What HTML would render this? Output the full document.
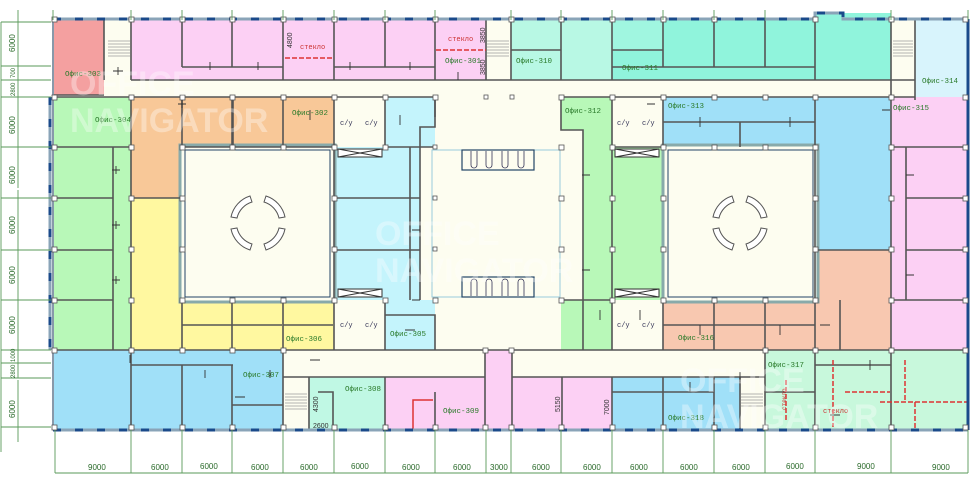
<!DOCTYPE html>
<html><head><meta charset="utf-8"><style>
html,body{margin:0;padding:0;background:#fff}
svg{display:block}
.l{font-family:"Liberation Mono",monospace;font-size:7.5px;fill:#2a7a2a}
.d{font-family:"Liberation Sans",sans-serif;font-size:8px;fill:#2a6a2a}
.s{font-family:"Liberation Mono",monospace;font-size:7px;fill:#335}
.w{stroke:#555;stroke-width:1.6;fill:none}
.t{stroke:#333;stroke-width:0.9}
</style></head><body>
<svg width="975" height="498" viewBox="0 0 975 498" xmlns="http://www.w3.org/2000/svg">
<rect width="975" height="498" fill="#fff"/>
<rect x="53" y="20" width="915" height="410" fill="#fdfdf0"/>
<!-- top row -->
<rect x="53" y="20" width="51" height="75" fill="#f4a0a0"/>
<rect x="131" y="20" width="355" height="60" fill="#fcd0f4"/>
<rect x="511" y="20" width="101" height="60" fill="#b8f8e4"/>
<rect x="612" y="20" width="203" height="60" fill="#90f4dc"/>
<rect x="612" y="20" width="51" height="30" fill="#a0f6e0"/>
<rect x="815" y="13" width="76" height="67" fill="#90f4dc"/>
<rect x="915" y="20" width="53" height="77" fill="#d8f4fc"/>
<!-- middle -->
<rect x="53" y="97" width="78" height="253" fill="#b8f8b8"/>
<rect x="131" y="97" width="51" height="101" fill="#f8c898"/>
<rect x="182" y="97" width="152" height="50" fill="#f8c898"/>
<rect x="385" y="97" width="50" height="50" fill="#c4f4fc"/>
<rect x="334" y="147" width="86" height="153" fill="#c4f4fc"/>
<rect x="385" y="300" width="50" height="15" fill="#c4f4fc"/>
<rect x="385" y="315" width="50" height="35" fill="#c4f4fc"/>
<rect x="131" y="198" width="51" height="152" fill="#fff8a0"/>
<rect x="182" y="300" width="152" height="50" fill="#fff8a0"/>
<rect x="561" y="97" width="51" height="33" fill="#b8f8b8"/>
<rect x="583" y="130" width="29" height="170" fill="#b8f8b8"/>
<rect x="612" y="147" width="51" height="153" fill="#b8f8b8"/>
<rect x="561" y="300" width="51" height="50" fill="#b8f8b8"/>
<rect x="663" y="97" width="152" height="50" fill="#a0e0f8"/>
<rect x="815" y="97" width="76" height="153" fill="#a0e0f8"/>
<rect x="891" y="97" width="77" height="253" fill="#fcd0f4"/>
<rect x="815" y="250" width="76" height="100" fill="#f8c8b0"/>
<rect x="663" y="300" width="152" height="50" fill="#f8c8b0"/>
<!-- atria -->
<rect x="180" y="145" width="155" height="157" fill="#fdfdf0" stroke="#8aa" stroke-width="3"/>
<rect x="185" y="150" width="145" height="147" fill="none" stroke="#246" stroke-width="1"/>
<rect x="663" y="145" width="155" height="157" fill="#fdfdf0" stroke="#8aa" stroke-width="3"/>
<rect x="668" y="150" width="145" height="147" fill="none" stroke="#246" stroke-width="1"/>
<g fill="#fff" stroke="#555" stroke-width="1">
<g transform="translate(258,223)">
<path d="M-27,-6 A28,28 0 0 1 -8,-27 L-6,-21 A22,22 0 0 0 -21,-5Z"/>
<path d="M27,-6 A28,28 0 0 0 8,-27 L6,-21 A22,22 0 0 1 21,-5Z"/>
<path d="M-27,6 A28,28 0 0 0 -8,27 L-6,21 A22,22 0 0 1 -21,5Z"/>
<path d="M27,6 A28,28 0 0 1 8,27 L6,21 A22,22 0 0 0 21,5Z"/>
</g>
<g transform="translate(740,223)">
<path d="M-27,-6 A28,28 0 0 1 -8,-27 L-6,-21 A22,22 0 0 0 -21,-5Z"/>
<path d="M27,-6 A28,28 0 0 0 8,-27 L6,-21 A22,22 0 0 1 21,-5Z"/>
<path d="M-27,6 A28,28 0 0 0 -8,27 L-6,21 A22,22 0 0 1 -21,5Z"/>
<path d="M27,6 A28,28 0 0 1 8,27 L6,21 A22,22 0 0 0 21,5Z"/>
</g></g>
<!-- central hall -->
<rect x="432" y="150" width="128" height="147" fill="none" stroke="#9cd" stroke-width="1"/>
<rect x="462" y="150" width="72" height="20" fill="#fdfdf0" stroke="#246" stroke-width="1.2"/>
<rect x="462" y="277" width="72" height="20" fill="#fdfdf0" stroke="#246" stroke-width="1.2"/>
<g stroke="#335" fill="none" stroke-width="0.8">
<path d="M471,151v14a3,3 0 0 0 6,0v-14M486,151v14a3,3 0 0 0 6,0v-14M502,151v14a3,3 0 0 0 6,0v-14M518,151v14a3,3 0 0 0 6,0v-14"/>
<path d="M471,296v-14a3,3 0 0 1 6,0v14M486,296v-14a3,3 0 0 1 6,0v14M502,296v-14a3,3 0 0 1 6,0v14M518,296v-14a3,3 0 0 1 6,0v14"/>
</g>
<!-- bottom row -->
<rect x="53" y="350" width="230" height="80" fill="#a0e0f8"/>
<rect x="309" y="377" width="76" height="53" fill="#c0f8e4"/>
<rect x="385" y="377" width="100" height="53" fill="#fcd0f4"/>
<rect x="485" y="350" width="27" height="80" fill="#fcd0f4"/>
<rect x="512" y="377" width="100" height="53" fill="#fcd0f4"/>
<rect x="612" y="377" width="128" height="53" fill="#a0e0f8"/>
<rect x="765" y="350" width="203" height="80" fill="#c8f8dc"/>
<!-- stairs -->
<g stroke="#999" stroke-width="0.8">
<path d="M108,41h22M108,44h22M108,47h22M108,50h22M108,53h22M108,56h22"/>
<path d="M487,41h22M487,44h22M487,47h22M487,50h22M487,53h22M487,56h22"/>
<path d="M893,41h20M893,44h20M893,47h20M893,50h20M893,53h20M893,56h20"/>
<path d="M285,394h22M285,397h22M285,400h22M285,403h22M285,406h22M285,409h22"/>
<path d="M741,394h22M741,397h22M741,400h22M741,403h22M741,406h22"/>
</g>
<!-- walls -->
<g class="w">
<path d="M104,20v60M131,20v60M182,20v47M232,20v47M283,20v60M334,20v60M385,20v47M435,20v60M486,20v60M511,20v60M561,20v60M612,20v60M663,20v47M714,20v47M765,20v47M815,20v60M891,20v80M915,20v80"/>
<path d="M131,80h784M182,67h101M334,67h101M511,50h50M612,50h51M612,67h203M891,80h24"/>
<path d="M53,97h382v20M435,117v-20M561,97h354M53,95h51"/>
<path d="M131,97v253M182,97v50M182,147h152M232,97v50M283,97v50M334,97v50M385,97v50M435,97v30h-15v173M53,147h60v203M53,198h60M53,250h60M53,300h60M112,147h19"/>
<path d="M132,198h50M233,97v50M334,147v153M334,198h86M334,250h86M385,147h50M410,147v153"/>
<path d="M182,300v50M232,300v50M283,300v50M334,300v50M385,300v50M182,325h100M283,325h50M385,315h50v35"/>
<path d="M561,97v33h22v220M561,300h51M612,97v253M663,97v50M612,147h51M663,300v50M714,300v50M765,300v50M663,325h152M815,97v253M815,250h76M891,97v253M891,300h77M891,147h15v153M906,147h62M906,198h62M906,250h62M840,300v50"/>
<path d="M663,122h152M740,122v25"/>
<path d="M53,350h915M283,377h202M512,377h253M765,350v80"/>
<path d="M131,350v80M182,365v65M232,365v65M283,350v80M131,365h102M232,405h51"/>
<path d="M309,377v53M385,377v53M435,392v38M485,350v80M512,350v80M562,377v53M612,377v53M663,377v53M714,377v53M740,377v53M612,392h102"/>
<path d="M815,350v80M891,350v80M815,365h76M765,392h50"/>
<path d="M318,392h15v38"/>
</g>
<!-- red glass -->
<g stroke="#d33" stroke-width="1.5" fill="none" stroke-dasharray="5,2">
<path d="M285,58h48M436,50h50M833,360v67M845,392h45M905,360v40M880,402h88M915,402v28M786,380v40"/>
<path d="M413,430v-30h20" stroke-dasharray="none"/>
</g>
<!-- outer walls -->
<g fill="none" stroke-width="3">
<path d="M53,19H815V13h28v6h125M53,430H968M50,97v253" stroke="#8aa4b8"/>
<path d="M53,19H815V13h28v6h125M53,430H968M50,97v253" stroke="#1a4a8a" stroke-dasharray="8,14"/>
<path d="M968,19v411" stroke="#1a4a8a"/>
</g>
<path d="M53,19v411" stroke="#89a" stroke-width="2"/>
<!-- columns -->
<g fill="#fff" stroke="#555" stroke-width="0.8">
<rect x="52" y="17" width="5" height="5"/><rect x="129" y="17" width="5" height="5"/><rect x="180" y="17" width="5" height="5"/><rect x="230" y="17" width="5" height="5"/><rect x="281" y="17" width="5" height="5"/><rect x="332" y="17" width="5" height="5"/><rect x="383" y="17" width="5" height="5"/><rect x="433" y="17" width="5" height="5"/><rect x="509" y="17" width="5" height="5"/><rect x="559" y="17" width="5" height="5"/><rect x="610" y="17" width="5" height="5"/><rect x="661" y="17" width="5" height="5"/><rect x="712" y="17" width="5" height="5"/><rect x="813" y="17" width="5" height="5"/><rect x="889" y="17" width="5" height="5"/><rect x="963" y="17" width="5" height="5"/>
<rect x="52" y="95" width="5" height="5"/><rect x="129" y="95" width="5" height="5"/><rect x="180" y="95" width="5" height="5"/><rect x="230" y="95" width="5" height="5"/><rect x="281" y="95" width="5" height="5"/><rect x="332" y="95" width="5" height="5"/><rect x="383" y="95" width="5" height="5"/><rect x="433" y="95" width="5" height="5"/><rect x="484" y="95" width="4" height="4"/><rect x="510" y="95" width="4" height="4"/><rect x="559" y="95" width="5" height="5"/><rect x="610" y="95" width="5" height="5"/><rect x="661" y="95" width="5" height="5"/><rect x="712" y="95" width="5" height="5"/><rect x="763" y="95" width="5" height="5"/><rect x="813" y="95" width="5" height="5"/><rect x="889" y="95" width="5" height="5"/><rect x="963" y="95" width="5" height="5"/>
<rect x="52" y="145" width="5" height="5"/><rect x="129" y="145" width="5" height="5"/><rect x="180" y="145" width="5" height="5"/><rect x="230" y="145" width="5" height="5"/><rect x="281" y="145" width="5" height="5"/><rect x="332" y="145" width="5" height="5"/><rect x="383" y="145" width="5" height="5"/><rect x="433" y="145" width="4" height="4"/><rect x="559" y="145" width="5" height="5"/><rect x="610" y="145" width="5" height="5"/><rect x="661" y="145" width="5" height="5"/><rect x="712" y="145" width="5" height="5"/><rect x="763" y="145" width="5" height="5"/><rect x="813" y="145" width="5" height="5"/><rect x="889" y="145" width="5" height="5"/><rect x="963" y="145" width="5" height="5"/>
<rect x="52" y="196" width="5" height="5"/><rect x="129" y="196" width="5" height="5"/><rect x="180" y="196" width="5" height="5"/><rect x="332" y="196" width="5" height="5"/><rect x="433" y="196" width="4" height="4"/><rect x="559" y="196" width="5" height="5"/><rect x="610" y="196" width="5" height="5"/><rect x="661" y="196" width="5" height="5"/><rect x="813" y="196" width="5" height="5"/><rect x="889" y="196" width="5" height="5"/><rect x="963" y="196" width="5" height="5"/>
<rect x="52" y="247" width="5" height="5"/><rect x="129" y="247" width="5" height="5"/><rect x="180" y="247" width="5" height="5"/><rect x="332" y="247" width="5" height="5"/><rect x="433" y="247" width="4" height="4"/><rect x="559" y="247" width="5" height="5"/><rect x="610" y="247" width="5" height="5"/><rect x="661" y="247" width="5" height="5"/><rect x="813" y="247" width="5" height="5"/><rect x="889" y="247" width="5" height="5"/><rect x="963" y="247" width="5" height="5"/>
<rect x="52" y="298" width="5" height="5"/><rect x="129" y="298" width="5" height="5"/><rect x="180" y="298" width="5" height="5"/><rect x="230" y="298" width="5" height="5"/><rect x="281" y="298" width="5" height="5"/><rect x="332" y="298" width="5" height="5"/><rect x="383" y="298" width="5" height="5"/><rect x="433" y="298" width="5" height="5"/><rect x="559" y="298" width="5" height="5"/><rect x="610" y="298" width="5" height="5"/><rect x="661" y="298" width="5" height="5"/><rect x="712" y="298" width="5" height="5"/><rect x="763" y="298" width="5" height="5"/><rect x="813" y="298" width="5" height="5"/><rect x="889" y="298" width="5" height="5"/><rect x="963" y="298" width="5" height="5"/>
<rect x="52" y="348" width="5" height="5"/><rect x="129" y="348" width="5" height="5"/><rect x="180" y="348" width="5" height="5"/><rect x="230" y="348" width="5" height="5"/><rect x="281" y="348" width="5" height="5"/><rect x="483" y="348" width="5" height="5"/><rect x="509" y="348" width="5" height="5"/><rect x="763" y="348" width="5" height="5"/><rect x="813" y="348" width="5" height="5"/><rect x="889" y="348" width="5" height="5"/><rect x="963" y="348" width="5" height="5"/>
<rect x="52" y="425" width="5" height="5"/><rect x="129" y="425" width="5" height="5"/><rect x="180" y="425" width="5" height="5"/><rect x="230" y="425" width="5" height="5"/><rect x="281" y="425" width="5" height="5"/><rect x="332" y="425" width="5" height="5"/><rect x="383" y="425" width="5" height="5"/><rect x="433" y="425" width="5" height="5"/><rect x="483" y="425" width="5" height="5"/><rect x="509" y="425" width="5" height="5"/><rect x="559" y="425" width="5" height="5"/><rect x="610" y="425" width="5" height="5"/><rect x="661" y="425" width="5" height="5"/><rect x="712" y="425" width="5" height="5"/><rect x="763" y="425" width="5" height="5"/><rect x="813" y="425" width="5" height="5"/><rect x="889" y="425" width="5" height="5"/><rect x="963" y="425" width="5" height="5"/>
</g>
<!-- lift boxes -->
<g fill="#fff" stroke="#333" stroke-width="1">
<rect x="338" y="149" width="44" height="8"/><path d="M338,149l44,8M338,157l44,-8"/>
<rect x="338" y="289" width="44" height="8"/><path d="M338,289l44,8M338,297l44,-8"/>
<rect x="615" y="149" width="44" height="8"/><path d="M615,149l44,8M615,157l44,-8"/>
<rect x="615" y="289" width="44" height="8"/><path d="M615,289l44,8M615,297l44,-8"/>
</g>
<!-- door ticks -->
<g class="t">
<path d="M118,67v8M113,71h10M210,62v8M258,62v8M350,62v8M410,62v8M458,72v8M182,100v8M178,104h8M112,170h8M116,166v8M112,225h8M116,221v8M112,280h8M116,276v8M310,110v10M400,115v10M420,230h-8M420,300h-8M590,175h-8M590,270h-8M655,104h-8M700,117v10M790,117v10M890,110h-8M906,175h8M906,275h8M130,355v8M205,370v8M270,370v8M235,397h10M310,360h10M405,330h10M600,310v10M640,310v10M700,325v10M780,325v10M820,325h10M870,360v10M830,415h10M740,372v10M690,382v10"/>
</g>
<!-- labels -->
<text class="l" x="65" y="76">Офис-303</text>
<text class="l" x="95" y="122">Офис-304</text>
<text class="l" x="292" y="115">Офис-302</text>
<text class="l" x="445" y="63">Офис-301</text>
<text class="l" x="516" y="63">Офис-310</text>
<text class="l" x="622" y="70">Офис-311</text>
<text class="l" x="922" y="83">Офис-314</text>
<text class="l" x="565" y="113">Офис-312</text>
<text class="l" x="668" y="108">Офис-313</text>
<text class="l" x="893" y="110">Офис-315</text>
<text class="l" x="286" y="341">Офис-306</text>
<text class="l" x="390" y="336">Офис-305</text>
<text class="l" x="243" y="377">Офис-307</text>
<text class="l" x="345" y="391">Офис-308</text>
<text class="l" x="443" y="413">Офис-309</text>
<text class="l" x="678" y="340">Офис-316</text>
<text class="l" x="768" y="367">Офис-317</text>
<text class="l" x="668" y="420">Офис-318</text>
<text class="s" x="340" y="125">с/у</text><text class="s" x="365" y="125">с/у</text>
<text class="s" x="617" y="125">с/у</text><text class="s" x="642" y="125">с/у</text>
<text class="s" x="340" y="327">с/у</text><text class="s" x="365" y="327">с/у</text>
<text class="s" x="617" y="327">с/у</text><text class="s" x="642" y="327">с/у</text>
<text x="300" y="49" font-family="Liberation Mono,monospace" font-size="7" fill="#c33">стекло</text>
<text x="448" y="41" font-family="Liberation Mono,monospace" font-size="7" fill="#c33">стекло</text>
<text x="823" y="413" font-family="Liberation Mono,monospace" font-size="7" fill="#c33">стекло</text>
<text x="786" y="410" font-family="Liberation Mono,monospace" font-size="6" fill="#c33" transform="rotate(-90 786 410)">стекло</text>
<g font-family="Liberation Sans,sans-serif" font-size="7" fill="#333">
<text transform="translate(292,48) rotate(-90)">4800</text>
<text transform="translate(485,43) rotate(-90)">3850</text>
<text transform="translate(485,75) rotate(-90)">3850</text>
<text transform="translate(318,412) rotate(-90)">4300</text>
<text x="313" y="428">2600</text>
<text transform="translate(560,412) rotate(-90)">5150</text>
<text transform="translate(609,415) rotate(-90)">7000</text>
</g>
<!-- dimension lines -->
<g stroke="#5a9a5a" stroke-width="0.9" fill="none">
<path d="M55,430v43M131,430v43M182,430v43M232,430v43M283,430v43M334,430v43M385,430v43M435,430v43M486,430v43M511,430v43M561,430v43M612,430v43M663,430v43M714,430v43M765,430v43M815,430v43M891,430v43M968,430v43M55,473H968"/>
<path d="M53,10v10M131,10v10M182,10v10M232,10v10M283,10v10M334,10v10M385,10v10M435,10v10M511,10v10M561,10v10M612,10v10M663,10v10M714,10v10M765,10v10M891,10v10M968,10v10"/>
<path d="M1,22v430M18,10v178M18,190v188M18,380v62M1,22h50M1,66h50M1,80h50M1,97h50M1,147h50M1,198h50M1,250h50M1,300h50M1,350h50M1,363h50M1,378h50M1,427h50"/>
</g>
<g class="d">
<text x="88" y="470">9000</text><text x="151" y="470">6000</text><text x="200" y="469">6000</text><text x="251" y="470">6000</text><text x="300" y="470">6000</text><text x="351" y="469">6000</text><text x="402" y="470">6000</text><text x="453" y="470">6000</text><text x="490" y="470">3000</text><text x="532" y="470">6000</text><text x="583" y="470">6000</text><text x="630" y="470">6000</text><text x="680" y="470">6000</text><text x="732" y="470">6000</text><text x="786" y="469">6000</text><text x="857" y="469">9000</text><text x="932" y="470">9000</text>
<text transform="translate(15,52) rotate(-90)">6000</text>
<text transform="translate(15,78) rotate(-90)" font-size="6">700</text>
<text transform="translate(15,96) rotate(-90)" font-size="6">2800</text>
<text transform="translate(15,134) rotate(-90)">6000</text>
<text transform="translate(15,184) rotate(-90)">6000</text>
<text transform="translate(15,234) rotate(-90)">6000</text>
<text transform="translate(15,284) rotate(-90)">6000</text>
<text transform="translate(15,334) rotate(-90)">6000</text>
<text transform="translate(15,362) rotate(-90)" font-size="6">1000</text>
<text transform="translate(15,378) rotate(-90)" font-size="6">2800</text>
<text transform="translate(15,418) rotate(-90)">6000</text>
</g>
<!-- watermark -->
<g font-family="Liberation Sans,sans-serif" font-weight="bold" font-size="34" fill="#fff" opacity="0.35">
<text x="70" y="95">OFFICE</text><text x="70" y="132">NAVIGATOR</text>
<text x="375" y="245">OFFICE</text><text x="375" y="282">NAVIGATOR</text>
<text x="680" y="392">OFFICE</text><text x="680" y="428">NAVIGATOR</text>
</g>
</svg>
</body></html>
